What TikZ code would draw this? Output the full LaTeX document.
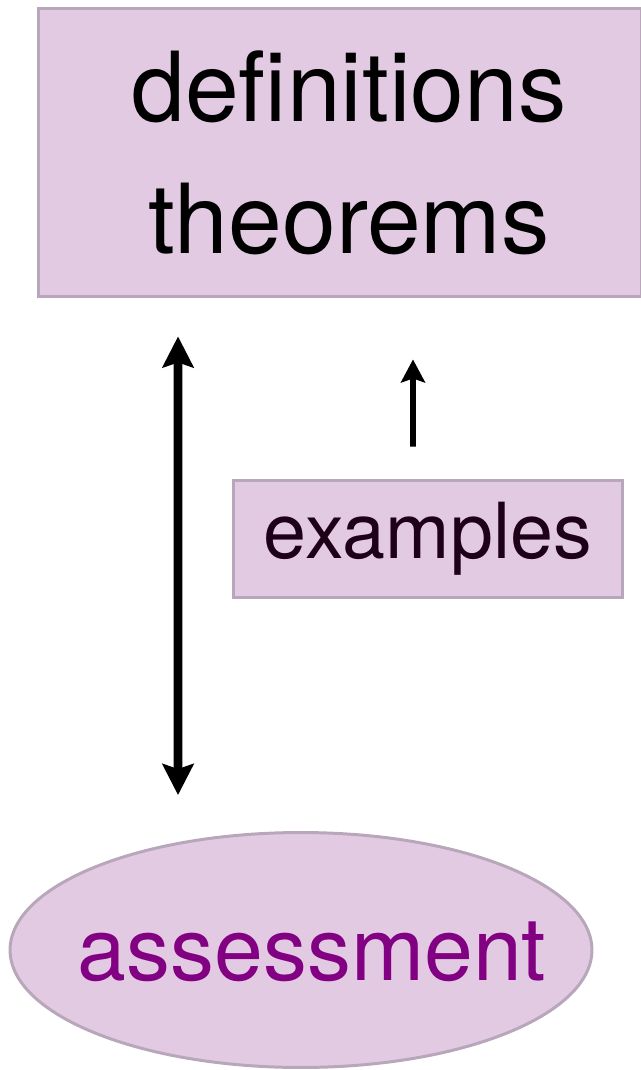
\documentclass[tikz,border=0pt]{standalone}
\usepackage{fontspec}
\setmainfont{TeX Gyre Heros}
\usetikzlibrary{positioning,arrows.meta,shapes.geometric}
\definecolor{lilac}{HTML}{E3CAE3}
\definecolor{lilacedge}{HTML}{B8A6BA}
\definecolor{plum}{HTML}{820082}
\definecolor{inkdark}{HTML}{1E0018}

\begin{document}
\begin{tikzpicture}[
  x=0.02cm, y=-0.02cm,
  box/.style={draw=lilacedge, line width=1.7pt, fill=lilac, align=center, inner sep=0pt},
  blob/.style={ellipse, draw=lilacedge, line width=1.7pt, fill=lilac, inner sep=0pt,
               minimum width=11.64cm, minimum height=4.7cm},
  bigarrow/.style={{Stealth[length=6.2mm, width=6.2mm, inset=1mm]}-{Stealth[length=6.2mm, width=6.2mm, inset=1mm]},
                   line width=5pt},
  smallarrow/.style={-{Stealth[length=4.6mm, width=4.8mm, inset=0.8mm]}, line width=3.4pt},
]
\useasboundingbox (0,0) rectangle (640,1070);

% ---- nodes ----
\node[box, minimum width=12.08cm, minimum height=5.78cm,
      font=\fontsize{55}{77}\selectfont] (defs) at (340,152.5)
      {\hspace*{0.36cm}definitions\\[-2pt]\hspace*{0.36cm}theorems};
\node[box, minimum width=7.8cm, minimum height=2.36cm, text=inkdark,
      font=\fontsize{44}{50}\selectfont] (ex) at (428,539) {examples};
\node[blob] (assess) at (301,950) {};
\node[text=plum, font=\fontsize{50}{60}\selectfont]
      (assesslbl) at ([xshift=0.22cm, yshift=-0.04cm]assess.center) {assessment};

% ---- connectors ----
\draw[bigarrow, shorten <=7.6mm, shorten >=7.2mm]
  ([xshift=-3.24cm]defs.south) -- ([xshift=-2.46cm]assess.north);
\draw[smallarrow, shorten <=6.4mm, shorten >=12.2mm]
  ([xshift=-0.3cm]ex.north) -- ([xshift=1.46cm]defs.south);
\end{tikzpicture}
\end{document}
